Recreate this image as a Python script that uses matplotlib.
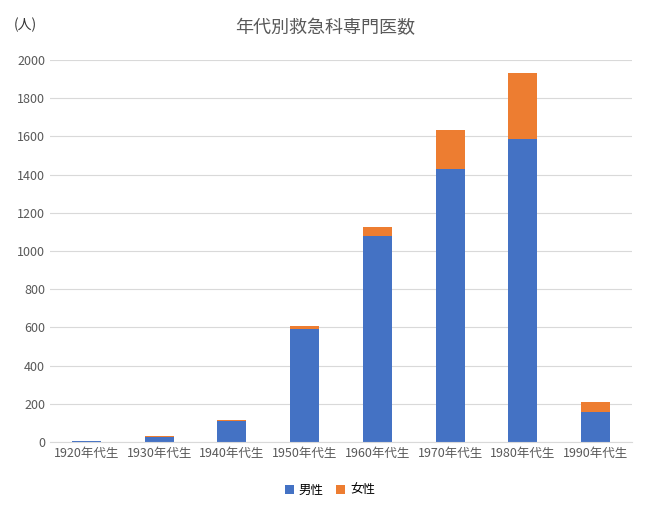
import matplotlib
matplotlib.use("Agg")
import matplotlib.pyplot as plt

plt.rcParams['font.family'] = ['Noto Sans CJK JP', 'DejaVu Sans']

categories = ["1920年代生", "1930年代生", "1940年代生", "1950年代生", "1960年代生", "1970年代生", "1980年代生", "1990年代生"]
male = [3, 26, 110, 592, 1078, 1429, 1586, 157]
female = [0, 5, 5, 15, 48, 204, 346, 52]

fig = plt.figure(figsize=(6.6, 5.14), dpi=100)
ax = fig.add_axes([50/660, 1-442/514, 582/660, 382/514])
x = range(len(categories))
ax.bar(x, male, width=0.4, color="#4472C4", label="男性")
ax.bar(x, female, width=0.4, bottom=male, color="#ED7D31", label="女性")
ax.set_xlim(-0.5, len(categories)-0.5)
ax.set_ylim(0, 2000)
ax.set_yticks(range(0, 2001, 200))
ax.set_xticks(list(x))
ax.set_xticklabels(categories)
ax.tick_params(axis='both', length=0, labelsize=9, colors="#595959")
ax.grid(axis='y', color="#D9D9D9", linewidth=0.8)
ax.set_axisbelow(True)
for s in ["top", "right", "left"]:
    ax.spines[s].set_visible(False)
ax.spines["bottom"].set_color("#D9D9D9")
fig.text(325/660, 1-28/514, "年代別救急科専門医数", ha="center", va="center", fontsize=13, color="#595959")
fig.text(14/660, 1-25/514, "(人)", ha="left", va="center", fontsize=10, color="#333333")
fig.legend(loc="center", bbox_to_anchor=(330/660, 1-490/514), ncol=2, frameon=False, fontsize=9,
           handlelength=0.7, handleheight=0.7, columnspacing=1.0, handletextpad=0.4)
fig.savefig("out.png", dpi=100)
